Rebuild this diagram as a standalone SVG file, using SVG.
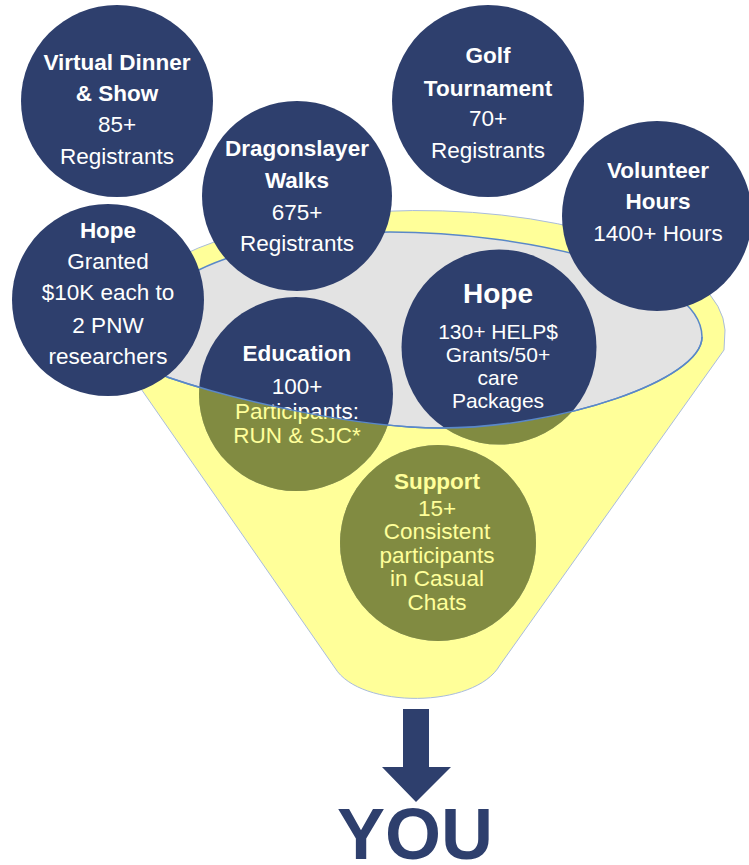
<svg xmlns="http://www.w3.org/2000/svg" width="749" height="865" viewBox="0 0 749 865">
<style>
.c{fill:#2E3F6D;}
.t{font-family:"Liberation Sans",Arial,sans-serif;fill:#FFFFFF;text-anchor:middle;font-size:22.5px;}
.b{font-weight:bold;}
.s{font-size:21px;}
.yel{fill:#FFFF00;fill-opacity:0.4;}
</style>
<defs>
<clipPath id="frontClip">
<circle cx="296" cy="394" r="97"/>
<circle cx="499" cy="347" r="97.5"/>
<circle cx="438" cy="543" r="98"/>
</clipPath>
</defs>
<rect width="749" height="865" fill="#FFFFFF"/>
<g id="funnel">
<path class="yel" stroke="#A9BCDD" stroke-width="1" d="M 113,335 A 306,122 0 0 1 725,330 L 724,350 L 500,665 C 475,709 360,709 335,668 L 114,350 Z"/>
<path id="bowl" fill="#E3E3E3" stroke="#5A88C8" stroke-width="1.5" d="M 145,335 C 145,300 180,275 225,259 C 280,240 330,232 390,232 C 520,232 702,270 702,337 C 702,380 560,428 440,428 C 360,428 240,402 167,377 C 152,372 145,350 145,335 Z"/>
</g>
<g id="education">
<circle class="c" cx="296" cy="394" r="97"/>
<text class="t b" x="297" y="361" font-size="23">Education</text>
<text class="t" x="297" y="394">100+</text>
<text class="t" x="297" y="419">Participants:</text>
<text class="t" x="297" y="443">RUN &amp; SJC*</text>
</g>
<g id="hope-grants">
<circle class="c" cx="499" cy="347" r="97.5"/>
<text class="t b" x="498" y="303" style="font-size:28px">Hope</text>
<text class="t s" x="498" y="339">130+ HELP$</text>
<text class="t s" x="498" y="362">Grants/50+</text>
<text class="t s" x="498" y="385">care</text>
<text class="t s" x="498" y="408">Packages</text>
</g>
<g id="support">
<circle class="c" cx="438" cy="543" r="98"/>
<text class="t b" x="437" y="489">Support</text>
<text class="t" x="437" y="516">15+</text>
<text class="t" x="437" y="539">Consistent</text>
<text class="t" x="437" y="563">participants</text>
<text class="t" x="437" y="586">in Casual</text>
<text class="t" x="437" y="610">Chats</text>
</g>
<g id="funnel-front">
<path class="yel" clip-path="url(#frontClip)" d="M 114,350 L 335,668 C 360,709 475,709 500,665 L 724,350 L 702,337 C 702,380 560,428 440,428 C 360,428 240,402 167,377 C 152,372 145,350 145,335 Z"/>
<path fill="none" stroke="#5A88C8" stroke-width="1.5" d="M 702,337 C 702,380 560,428 440,428 C 360,428 240,402 167,377"/>
</g>
<g id="virtual-dinner">
<circle class="c" cx="117" cy="101" r="96"/>
<text class="t b" x="117" y="70">Virtual Dinner</text>
<text class="t b" x="117" y="101">&amp; Show</text>
<text class="t" x="117" y="132">85+</text>
<text class="t" x="117" y="164">Registrants</text>
</g>
<g id="golf">
<circle class="c" cx="488" cy="101" r="96"/>
<text class="t b" x="488" y="63">Golf</text>
<text class="t b" x="488" y="96">Tournament</text>
<text class="t" x="488" y="126">70+</text>
<text class="t" x="488" y="158">Registrants</text>
</g>
<g id="dragonslayer">
<circle class="c" cx="297" cy="196" r="95"/>
<text class="t b" x="297" y="156">Dragonslayer</text>
<text class="t b" x="297" y="188">Walks</text>
<text class="t" x="297" y="220">675+</text>
<text class="t" x="297" y="251">Registrants</text>
</g>
<g id="volunteer">
<circle class="c" cx="657" cy="216" r="95"/>
<text class="t b" x="658" y="178">Volunteer</text>
<text class="t b" x="658" y="209">Hours</text>
<text class="t" x="658" y="241">1400+ Hours</text>
</g>
<g id="hope-research">
<circle class="c" cx="108" cy="300" r="96"/>
<text class="t b" x="108" y="238">Hope</text>
<text class="t" x="108" y="269">Granted</text>
<text class="t" x="108" y="300">$10K each to</text>
<text class="t" x="108" y="333">2 PNW</text>
<text class="t" x="108" y="364">researchers</text>
</g>
<g id="connectors">
<path fill="#2E3F6D" d="M 403,709 L 429,709 L 429,767 L 451,767 L 416,802 L 382,767 L 403,767 Z"/>
</g>
<g id="you">
<text x="415" y="859" style="font-family:'Liberation Sans',Arial,sans-serif;font-weight:bold;font-size:72px;fill:#2E3F6D;text-anchor:middle">YOU</text>
</g>
</svg>
